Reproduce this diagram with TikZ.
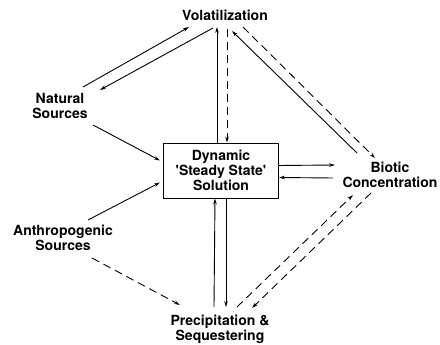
\documentclass[tikz,border=0pt]{standalone}
\usepackage{fontspec}
\setmainfont{TeX Gyre Heros}
\usetikzlibrary{arrows.meta}

\begin{document}
\begin{tikzpicture}[x=1pt, y=-1pt,
  lbl/.style={font=\fontsize{14}{15}\selectfont\bfseries, align=center, inner sep=0pt},
  flow/.style={line width=0.9pt, -{Stealth[length=6pt, width=3.6pt]}},
  dflow/.style={flow, dash pattern=on 8pt off 5pt}]
  \useasboundingbox (0,0) rectangle (440,345);
  \node[lbl] (vol) at (225,15) {Volatilization};
  \node[lbl] (nat) at (60,106) {Natural\\Sources};
  \node[lbl, draw, line width=0.9pt, minimum width=115pt, minimum height=55pt] (box) at (221,170.5) {Dynamic\\\textquotesingle Steady State\textquotesingle\\Solution};
  \node[lbl] (bio) at (390,175) {Biotic\\Concentration};
  \node[lbl] (ant) at (63,238) {Anthropogenic\\Sources};
  \node[lbl] (pre) at (220,329) {Precipitation \&\\Sequestering};
  \draw[flow] ([shift={(23,-19)}]nat.center) -- ([shift={(-36,12)}]vol.center);
  \draw[flow] ([shift={(-12,13)}]vol.center) -- ([shift={(40,-16)}]nat.center);
  \draw[flow] ([shift={(33,19)}]nat.center) -- ([shift={(-61,-10)}]box.center);
  \draw[flow] ([xshift=-4pt]box.north) -- ([shift={(-8,12)}]vol.center);
  \draw[dflow] ([shift={(2,14)}]vol.center) -- ([xshift=6pt]box.north);
  \draw[flow] ([shift={(-33,-22)}]bio.center) -- ([shift={(7,16)}]vol.center);
  \draw[dflow] ([shift={(18,12)}]vol.center) -- ([shift={(-15,-17)}]bio.center);
  \draw[flow] ([yshift=5pt]box.east) -- ([shift={(-55,-10)}]bio.center);
  \draw[flow] ([shift={(-57,3)}]bio.center) -- ([yshift=-7pt]box.east);
  \draw[flow] ([shift={(25,-18)}]ant.center) -- ([shift={(-61,12)}]box.center);
  \draw[dflow] ([shift={(29,20)}]ant.center) -- ([shift={(-40,-24)}]pre.center);
  \draw[flow] ([shift={(-6,-22)}]pre.center) -- ([xshift=-6pt]box.south);
  \draw[flow] ([xshift=5pt]box.south) -- ([shift={(6,-22)}]pre.center);
  \draw[dflow] ([shift={(17,-22)}]pre.center) -- ([shift={(-37,20)}]bio.center);
  \draw[dflow] ([shift={(-19,18)}]bio.center) -- ([shift={(32,-21)}]pre.center);
\end{tikzpicture}
\end{document}
